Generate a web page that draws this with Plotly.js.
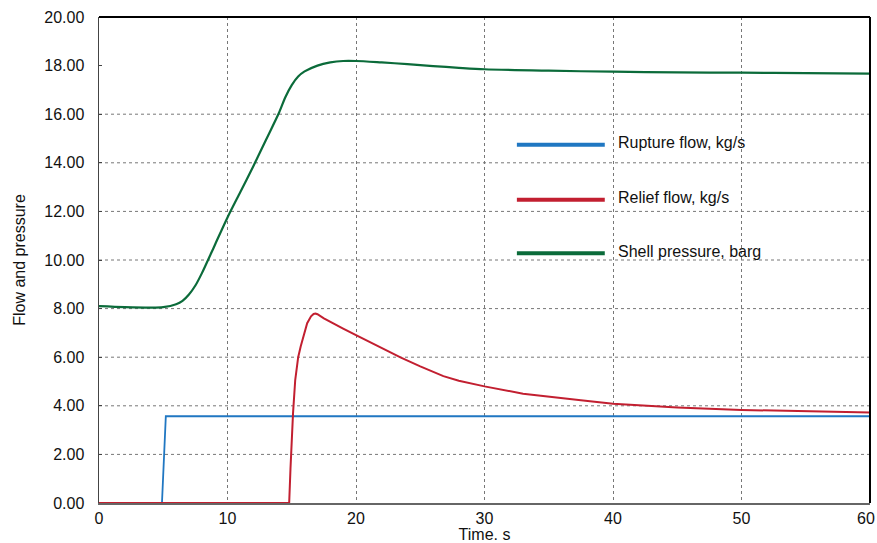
<!DOCTYPE html>
<html>
<head>
<meta charset="utf-8">
<script src="https://cdn.plot.ly/plotly-3.0.1.min.js"></script>
<style>html,body{margin:0;padding:0;background:#fff;}#chart{width:877px;height:543px;}</style>
</head>
<body>
<div id="chart"></div>
<script>
// ---- data ----
const seriesNames = ["Rupture flow, kg/s", "Relief flow, kg/s", "Shell pressure, barg"];
const ruptureTime = [0, 4.9, 5.2, 60];
const ruptureFlow = [0, 0, 3.57, 3.57];
const reliefTime = [0, 14.8, 14.9, 15.0, 15.1, 15.27, 15.5, 15.7, 16.0, 16.2, 16.5, 16.7, 16.85, 17.0, 17.5, 18, 19, 20, 22, 23.5, 25, 26, 26.8, 28, 30, 33, 35, 37.5, 40, 45, 50, 55, 60];
const reliefFlow = [0, 0, 1.4, 2.7, 3.7, 5.06, 6.0, 6.45, 7.05, 7.4, 7.68, 7.78, 7.8, 7.77, 7.6, 7.45, 7.18, 6.91, 6.38, 5.98, 5.62, 5.4, 5.22, 5.03, 4.8, 4.5, 4.37, 4.23, 4.08, 3.93, 3.83, 3.77, 3.72];
const shellTime = [0, 2, 4, 5, 6, 6.5, 7, 7.5, 8, 9, 10, 11, 12, 13, 14, 14.5, 15, 15.5, 16, 17, 18, 19, 20, 22, 24, 26, 28, 30, 35, 40, 45, 50, 55, 60];
const shellPressure = [8.10, 8.06, 8.04, 8.06, 8.18, 8.32, 8.58, 8.95, 9.45, 10.6, 11.75, 12.8, 13.85, 14.95, 16.05, 16.7, 17.2, 17.55, 17.76, 18.0, 18.13, 18.19, 18.19, 18.13, 18.06, 17.98, 17.91, 17.85, 17.79, 17.75, 17.72, 17.71, 17.69, 17.67];
const xTicks = [0, 10, 20, 30, 40, 50, 60];
const yTicks = [0, 2, 4, 6, 8, 10, 12, 14, 16, 18, 20];
const yGrid = [2, 4, 6, 8, 10, 12, 14, 16];
const colors = ["#2077c2", "#c21f30", "#0b6b3a"];

const font = "'Liberation Sans', Arial, sans-serif";

const traces = [
  {x: ruptureTime, y: ruptureFlow, mode: "lines", name: seriesNames[0], line: {color: colors[0], width: 1.8}, cliponaxis: false},
  {x: reliefTime, y: reliefFlow, mode: "lines", name: seriesNames[1], line: {color: colors[1], width: 2}, cliponaxis: false},
  {x: shellTime, y: shellPressure, mode: "lines", name: seriesNames[2], line: {color: colors[2], width: 2.2, shape: "spline", smoothing: 0.8}}
];

const shapes = [];
yGrid.forEach(v => shapes.push({type: "line", xref: "paper", yref: "y", x0: 0, x1: 1, y0: v, y1: v, layer: "below", line: {color: "#777", width: 1, dash: "dot"}}));
shapes.push({type: "line", xref: "paper", yref: "paper", x0: 0, x1: 1, y0: 1, y1: 1, line: {color: "#000", width: 2}});
shapes.push({type: "line", xref: "paper", yref: "paper", x0: 1, x1: 1, y0: 0, y1: 1, line: {color: "#000", width: 2}});

// legend drawn as annotations + sample lines
const legY = [0.737, 0.624, 0.514];
const annotations = [];
seriesNames.forEach((n, i) => {
  shapes.push({type: "line", xref: "paper", yref: "paper", x0: 0.542, x1: 0.656, y0: legY[i], y1: legY[i], line: {color: colors[i], width: 4}});
  annotations.push({xref: "paper", yref: "paper", x: 0.671, y: legY[i] + 0.004, xanchor: "left", yanchor: "middle", showarrow: false, text: n, font: {family: font, size: 16, color: "#111"}});
});
// last x tick label, right-aligned so it stays inside the picture
const lastTick = xTicks[xTicks.length - 1];
annotations.push({xref: "x", yref: "paper", x: lastTick, y: 0, yshift: -15, xshift: 7, xanchor: "right", yanchor: "middle", showarrow: false, text: String(lastTick), font: {family: font, size: 16, color: "#111"}});

const layout = {
  width: 877, height: 543,
  margin: {l: 99, r: 7, t: 17, b: 40},
  paper_bgcolor: "#fff", plot_bgcolor: "#fff",
  showlegend: false,
  xaxis: {
    range: [0, 60], tickvals: xTicks, ticktext: xTicks.map(v => v === lastTick ? "" : String(v)),
    showgrid: true, gridcolor: "#777", griddash: "dot", gridwidth: 1,
    zeroline: false, showline: true, linecolor: "#666", linewidth: 1.5,
    ticks: "",
    tickfont: {family: font, size: 16, color: "#111"},
    title: {text: "Time. s", font: {family: font, size: 16, color: "#111"}, standoff: 6}
  },
  yaxis: {
    range: [0, 20], tickvals: yTicks, ticktext: yTicks.map(v => v.toFixed(2)),
    showgrid: false, zeroline: false, showline: true, linecolor: "#444", linewidth: 1.5,
    ticks: "inside", ticklen: 3, tickcolor: "#444", ticklabelstandoff: 10,
    tickfont: {family: font, size: 16, color: "#111"},
    title: {text: "Flow and pressure", font: {family: font, size: 16, color: "#111"}, standoff: 14}
  },
  shapes: shapes,
  annotations: annotations
};

Plotly.newPlot("chart", traces, layout, {displayModeBar: false, staticPlot: true});
</script>
</body>
</html>
